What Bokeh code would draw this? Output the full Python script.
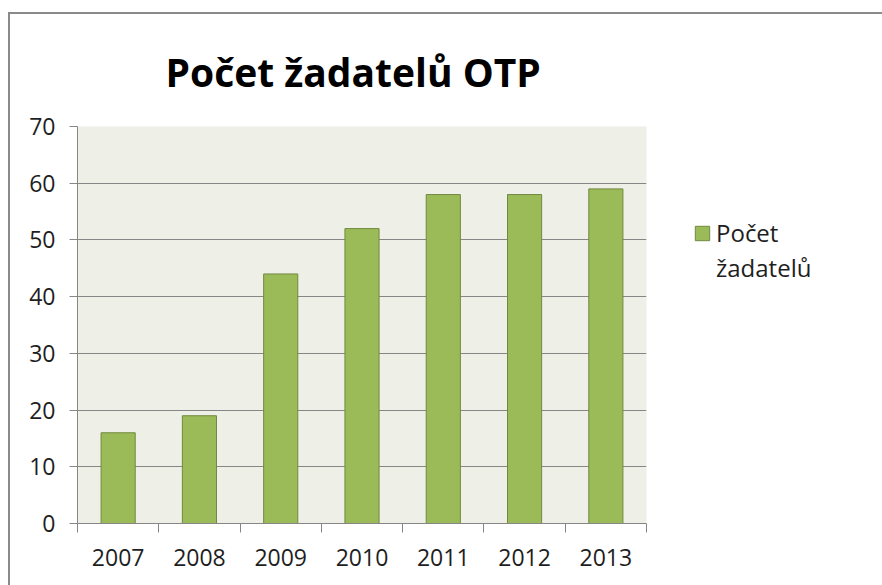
from bokeh.plotting import figure
from bokeh.models import FixedTicker, Range1d, Legend, LegendItem
from bokeh.embed import file_html
from bokeh.resources import INLINE

years = ["2007", "2008", "2009", "2010", "2011", "2012", "2013"]
applicants = [16, 19, 44, 52, 58, 58, 59]
y_ticks = [0, 10, 20, 30, 40, 50, 60, 70]
title_text = "Počet žadatelů OTP"
series_name_lines = ["Počet", "žadatelů"]

FONT = "Open Sans"
TEXT = "#1e1e1e"
GRID = "#868686"

x_centers = [i + 0.5 for i in range(len(years))]
x_bounds = list(range(len(years) + 1))

p = figure(frame_width=569, frame_height=397, output_backend="svg", toolbar_location=None,
           x_range=Range1d(0, len(years)), y_range=Range1d(y_ticks[0], y_ticks[-1]),
           min_border_left=67, min_border_right=236, min_border_top=112, min_border_bottom=62,
           styles={"border-top": "2px solid #8a8a8a", "border-left": "2px solid #8a8a8a",
                   "margin-left": "8px", "margin-top": "12px"})

p.background_fill_color = "#eef0e8"
p.border_fill_color = "white"
p.outline_line_color = None

r = p.vbar(x=x_centers, top=applicants, bottom=0, width=0.42,
           fill_color="#9bbb59", line_color="#71893f", line_width=1)
# empty renderer used only to carry the second line of the legend label
r_blank = p.vbar(x=[], top=[], width=0.42, fill_alpha=0, line_alpha=0)

# title
p.title.text = title_text
p.title.align = "left"
p.title.offset = 88
p.title.standoff = 57
p.title.text_font = FONT
p.title.text_font_style = "bold"
p.title.text_font_size = "39px"
p.title.text_color = "black"

# y axis
p.yaxis.ticker = FixedTicker(ticks=y_ticks)
p.yaxis.major_tick_out = 8
p.yaxis.major_tick_in = 0
p.yaxis.minor_tick_out = 0
p.yaxis.minor_tick_in = 0
p.yaxis.axis_line_color = GRID
p.yaxis.major_tick_line_color = GRID
p.yaxis.major_label_standoff = 14
p.yaxis.major_label_text_font = FONT
p.yaxis.major_label_text_font_size = "23px"
p.yaxis.major_label_text_color = TEXT

# x axis: labels at centres, ticks at category boundaries
p.xaxis.ticker = FixedTicker(ticks=x_centers, minor_ticks=x_bounds)
p.xaxis.major_label_overrides = {xc: yr for xc, yr in zip(x_centers, years)}
p.xaxis.major_tick_out = 0
p.xaxis.major_tick_in = 0
p.xaxis.minor_tick_out = 9
p.xaxis.minor_tick_in = 0
p.xaxis.minor_tick_line_color = GRID
p.xaxis.axis_line_color = GRID
p.xaxis.major_label_standoff = 16
p.xaxis.major_label_text_font = FONT
p.xaxis.major_label_text_font_size = "23px"
p.xaxis.major_label_text_color = TEXT

p.xgrid.visible = False
p.ygrid.ticker = FixedTicker(ticks=y_ticks)
p.ygrid.grid_line_color = GRID
p.ygrid.grid_line_width = 1

legend = Legend(items=[LegendItem(label=series_name_lines[0], renderers=[r]),
                       LegendItem(label=series_name_lines[1], renderers=[r_blank])],
                location=(47, 239), glyph_width=18, glyph_height=18, label_height=30,
                label_standoff=5, label_text_font=FONT, label_text_font_size="24px",
                label_text_color=TEXT, border_line_color=None,
                background_fill_alpha=0, padding=0, margin=0, spacing=2)
p.add_layout(legend, "right")

open("out.html", "w").write(file_html(p, INLINE))
